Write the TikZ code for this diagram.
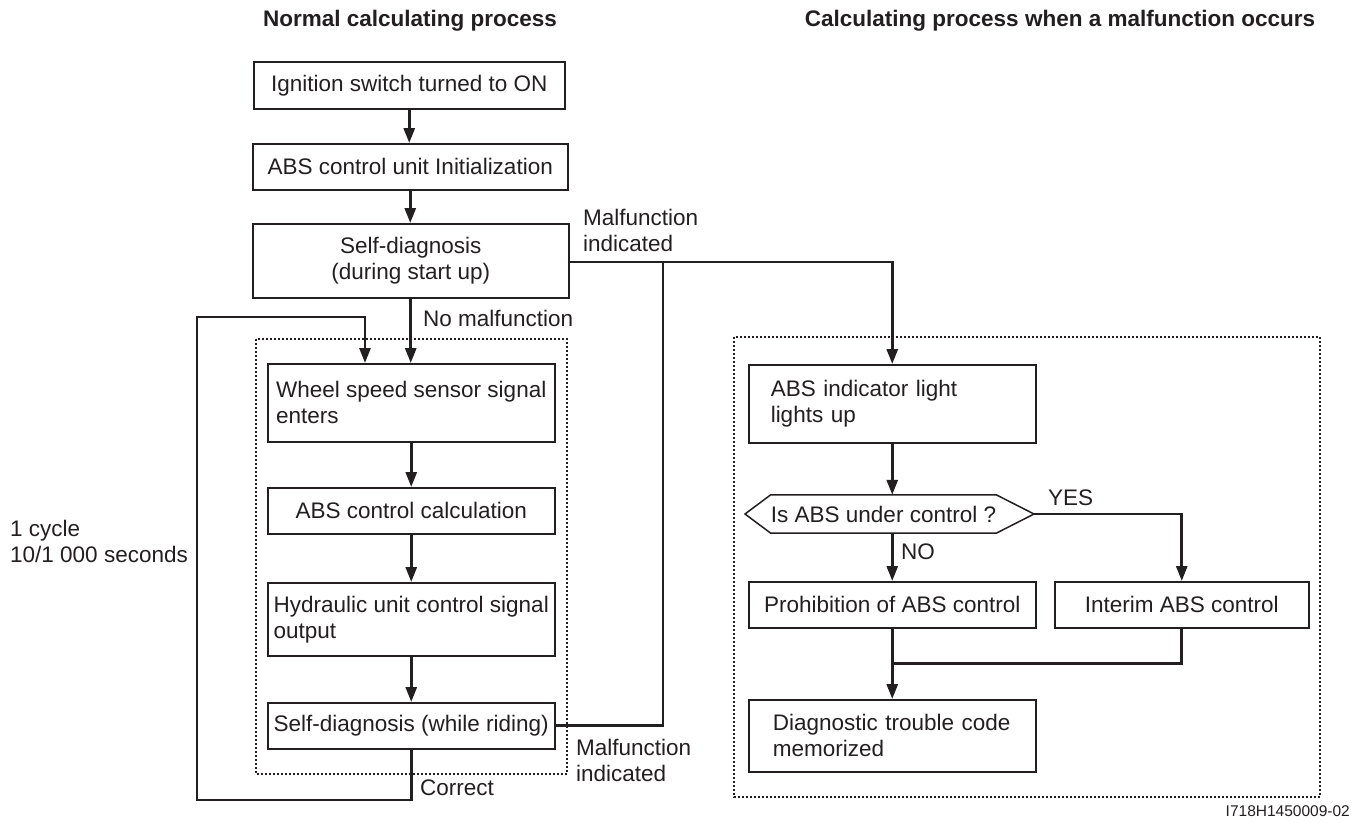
\documentclass[tikz,border=0pt]{standalone}
\usepackage{fontspec}
\setmainfont{Liberation Sans}
\usetikzlibrary{arrows.meta,calc}
\definecolor{ink}{HTML}{231F20}
\begin{document}
\begin{tikzpicture}[x=1pt,y=-1pt,
  font=\fontsize{22.5}{26}\selectfont,
  every node/.style={text=ink},
  box/.style={draw=ink, line width=1.5pt, inner sep=0pt, anchor=north west},
  lbox/.style={box, align=left},
  conn/.style={draw=ink, line width=2.8pt, -{Triangle[length=15pt,width=11pt]}},
  wire/.style={draw=ink, line width=2.8pt},
  dotbox/.style={draw=ink, line width=1.2pt, dash pattern=on 2pt off 2pt},
  lbl/.style={inner sep=0pt, align=left, anchor=west},
  ttl/.style={inner sep=0pt, font=\fontsize{22.5}{26}\selectfont\bfseries}]
\useasboundingbox (0,0) rectangle (1365,822);

% titles
\node[ttl] (t1) at (410,21) {Normal calculating process};
\node[ttl] (t2) at (1060,21) {Calculating process when a malfunction occurs};

% dotted frames
\draw[dotbox] (256,339) rectangle (567,774);
\draw[dotbox] (734,337) rectangle (1320,797);

% left column
\node[box, minimum width=311pt, minimum height=47pt] (b1) at (253,61) {Ignition switch turned to ON};
\node[box, minimum width=315pt, minimum height=46pt] (b2) at (252,143) {ABS control unit Initialization};
\node[box, minimum width=316pt, minimum height=74pt, align=center] (b3) at (252,223) {Self-diagnosis\\(during start up)};
\node[lbox, minimum width=287pt, minimum height=78pt] (wheel) at (267,363) {Wheel speed sensor signal\\enters};
\node[box, minimum width=287pt, minimum height=46pt] (calc) at (267,487) {ABS control calculation};
\node[lbox, minimum width=287pt, minimum height=73pt] (hyd) at (267,582) {Hydraulic unit control signal\\output};
\node[box, minimum width=287pt, minimum height=46pt] (sdr) at (267,702) {Self-diagnosis (while riding)};

% right column
\node[box, minimum height=78pt, text width=243pt, inner xsep=22pt, align=left] (ind) at (748,364) {ABS indicator light\\lights up};
\node[inner sep=0pt, minimum width=181pt, minimum height=38pt] (dec) at (883.5,514) {Is ABS under control ?};
\coordinate (decL) at (745,514);
\coordinate (decR) at (1034,514);
\draw[draw=ink, line width=1.5pt] (decL) -- (dec.north west) -- (dec.north east) -- (decR) -- (dec.south east) -- (dec.south west) -- cycle;
\node[box, minimum width=287pt, minimum height=46pt] (proh) at (748,581) {Prohibition of ABS control};
\node[box, minimum width=254pt, minimum height=46pt] (inter) at (1054,581) {Interim ABS control};
\node[box, minimum height=72pt, text width=239pt, inner xsep=24pt, align=left] (dtc) at (748,699) {Diagnostic trouble code\\memorized};

% left connectors
\draw[conn] (b1.south) -- (b1.south |- b2.north);
\draw[conn] (b2.south) -- (b2.south |- b3.north);
\draw[conn] (b3.south) -- (b3.south |- wheel.north);
\draw[conn] (wheel.south) -- (calc.north);
\draw[conn] (calc.south) -- (hyd.north);
\draw[conn] (hyd.south) -- (sdr.north);

% loop
\coordinate (lb) at (197,800);
\coordinate (lt) at (197,317);
\coordinate (win) at (365,363);
\draw[conn] (sdr.south) |- (lb) -- (lt) -| (win);

% malfunction lines
\coordinate (j) at (663,262);
\coordinate (b3r) at (568,262);
\draw[wire] (sdr.east) -| (j);
\draw[conn] (b3r) -| (ind.north);

% right connectors
\draw[conn] (ind.south) -- (ind.south |- dec.north);
\draw[conn] (ind.south |- dec.south) -- (proh.north);
\draw[conn] (decR) -| (inter.north);
\draw[conn] (proh.south) -- (dtc.north);
\draw[wire] (inter.south) |- ($(proh.south)!0.5!(dtc.north)$);

% labels
\node[lbl] (mi1) at (583,230) {Malfunction\\indicated};
\node[lbl] (mi2) at (576,760) {Malfunction\\indicated};
\node[lbl] (nomal) at (423,318) {No malfunction};
\node[lbl] (corr) at (420,788) {Correct};
\node[lbl] (cyc) at (10,541) {1 cycle\\10/1 000 seconds};
\node[lbl] (no) at (901,552) {NO};
\node[lbl] (yes) at (1048,498) {YES};
\node[inner sep=0pt, anchor=east, font=\fontsize{15.5}{18}\selectfont] (code) at (1350,811) {I718H1450009-02};
\end{tikzpicture}
\end{document}
